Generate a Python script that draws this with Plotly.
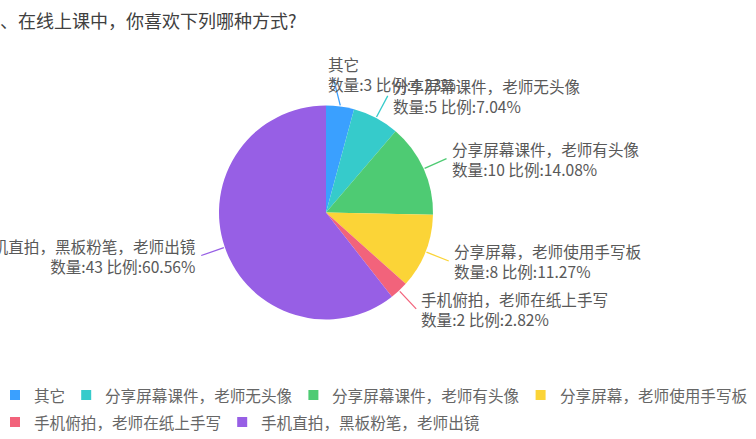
import math
import plotly.graph_objects as go

# ---- data ----
title_text = "、在线上课中，你喜欢下列哪种方式?"
categories = ["其它", "分享屏幕课件，老师无头像", "分享屏幕课件，老师有头像",
              "分享屏幕，老师使用手写板", "手机俯拍，老师在纸上手写", "手机直拍，黑板粉笔，老师出镜"]
counts = [3, 5, 10, 8, 2, 43]
colors = ["#3AA0FF", "#36CBCB", "#4ECB73", "#FBD437", "#F2637B", "#975FE5"]

# ---- layout constants ----
W, H = 756, 439
CX, CY, R = 326, 212.5, 107
LINE_LEN = 24
FONT = "Noto Sans CJK SC, Noto Sans, sans-serif"
LABEL_SIZE = 15.6
LEGEND_SIZE = 15.6
# manual label nudges (dx, dy) in px for overlapping labels
text_nudge = {"其它": (-20, -8)}
line_nudge = {"其它": (-10, -3)}
# legend flow layout (px)
LEG_X0, LEG_ROW0, LEG_ROW_GAP = 15, 395, 27
LEG_MARK, LEG_TEXT_OFF, LEG_ITEM_GAP = 10, 17, 23


def px(x):
    return x / W


def py(y):
    return 1 - y / H


def text_width(s, size):
    return sum(size if ord(ch) > 0x2E80 else 0.55 * size for ch in s)


total = sum(counts)
fig = go.Figure(go.Pie(
    labels=categories, values=counts, sort=False, direction="clockwise", rotation=0,
    marker=dict(colors=colors, line=dict(width=0)),
    textinfo="none", hoverinfo="label+value+percent", showlegend=False,
    domain=dict(x=[px(CX - R), px(CX + R)], y=[py(CY + R), py(CY - R)]),
))

shapes, annotations = [], []

# leader lines + outside labels, placed from each slice's mid angle
cum = 0
for name, v, c in zip(categories, counts, colors):
    mid = (cum + v / 2) / total * 2 * math.pi
    cum += v
    dx, dy = math.sin(mid), -math.cos(mid)
    x0, y0 = CX + (R + 1) * dx, CY + (R + 1) * dy
    x1, y1 = CX + (R + 1 + LINE_LEN) * dx, CY + (R + 1 + LINE_LEN) * dy
    lnx, lny = line_nudge.get(name, (0, 0))
    shapes.append(dict(type="line", xref="paper", yref="paper",
                       x0=px(x0), y0=py(y0), x1=px(x1 + lnx), y1=py(y1 + lny),
                       line=dict(color=c, width=1.3)))
    right = dx >= 0
    tx = x1 + (3 if right else -3)
    tnx, tny = text_nudge.get(name, (0, 0))
    pct = v / total * 100
    annotations.append(dict(
        xref="paper", yref="paper", x=px(tx + tnx), y=py(y1 + tny),
        xanchor="left" if right else "right", yanchor="middle",
        align="left" if right else "right", showarrow=False,
        text=f"{name}<br>数量:{v} 比例:{pct:.2f}%",
        font=dict(family=FONT, size=LABEL_SIZE, color="#595959"),
    ))

# legend (flow layout, wraps at figure width)
lx, row = LEG_X0, 0
for name, c in zip(categories, colors):
    tw = text_width(name, LEGEND_SIZE)
    if lx + LEG_TEXT_OFF + tw > W - 4:
        row += 1
        lx = LEG_X0
    ly = LEG_ROW0 + row * LEG_ROW_GAP
    shapes.append(dict(type="rect", xref="paper", yref="paper",
                       x0=px(lx - LEG_MARK / 2), x1=px(lx + LEG_MARK / 2),
                       y0=py(ly - LEG_MARK / 2), y1=py(ly + LEG_MARK / 2),
                       fillcolor=c, line=dict(width=0)))
    annotations.append(dict(
        xref="paper", yref="paper", x=px(lx + LEG_TEXT_OFF), y=py(ly),
        xanchor="left", yanchor="middle", showarrow=False, text=name,
        font=dict(family=FONT, size=LEGEND_SIZE, color="#666666"),
    ))
    lx += LEG_TEXT_OFF + tw + LEG_ITEM_GAP

annotations.append(dict(
    xref="paper", yref="paper", x=px(-2), y=py(20), xanchor="left", yanchor="middle",
    showarrow=False, text=title_text, font=dict(family=FONT, size=18, color="#404040"),
))

fig.update_layout(
    width=W, height=H, margin=dict(l=0, r=0, t=0, b=0, autoexpand=False),
    paper_bgcolor="white", plot_bgcolor="white",
    font=dict(family=FONT),
    shapes=shapes, annotations=annotations,
    showlegend=False,
)

fig.write_html("out.html")
